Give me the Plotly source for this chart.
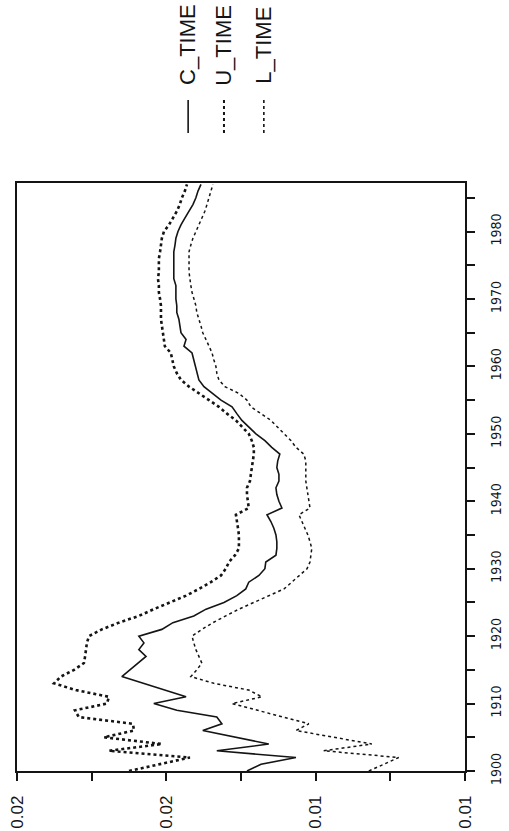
import plotly.graph_objects as go

years = list(range(1900, 1988))

c_time = [0.01730, 0.01683, 0.01566, 0.01831, 0.01657, 0.01770, 0.01878, 0.01814, 0.01831, 0.01965,
          0.02042, 0.01934, 0.02005, 0.02075, 0.02149, 0.02122, 0.02095, 0.02068, 0.02092, 0.02075,
          0.02092, 0.02015, 0.01978, 0.01908, 0.01867, 0.01807, 0.01764, 0.01734, 0.01724, 0.01690,
          0.01670, 0.01667, 0.01633, 0.01630, 0.01630, 0.01633, 0.01640, 0.01650, 0.01663, 0.01613,
          0.01623, 0.01630, 0.01633, 0.01623, 0.01623, 0.01630, 0.01627, 0.01620, 0.01647, 0.01670,
          0.01700, 0.01724, 0.01747, 0.01764, 0.01780, 0.01817, 0.01847, 0.01874, 0.01891, 0.01897,
          0.01901, 0.01908, 0.01914, 0.01941, 0.01934, 0.01951, 0.01955, 0.01958, 0.01965, 0.01965,
          0.01968, 0.01968, 0.01968, 0.01975, 0.01975, 0.01975, 0.01975, 0.01975, 0.01971, 0.01968,
          0.01961, 0.01951, 0.01938, 0.01924, 0.01911, 0.01901, 0.01894, 0.01884]

u_time = [0.02125, 0.02025, 0.01921, 0.02192, 0.02015, 0.02209, 0.02108, 0.02112, 0.02293, 0.02306,
          0.02199, 0.02192, 0.02303, 0.02376, 0.02353, 0.02309, 0.02276, 0.02272, 0.02269, 0.02266,
          0.02259, 0.02216, 0.02159, 0.02092, 0.02042, 0.01991, 0.01934, 0.01891, 0.01851, 0.01817,
          0.01801, 0.01790, 0.01770, 0.01757, 0.01757, 0.01757, 0.01760, 0.01764, 0.01767, 0.01724,
          0.01727, 0.01730, 0.01730, 0.01720, 0.01717, 0.01714, 0.01710, 0.01707, 0.01707, 0.01714,
          0.01724, 0.01747, 0.01767, 0.01797, 0.01824, 0.01857, 0.01891, 0.01924, 0.01951, 0.01965,
          0.01975, 0.01981, 0.01985, 0.02005, 0.02008, 0.02011, 0.02015, 0.02018, 0.02018, 0.02018,
          0.02021, 0.02025, 0.02025, 0.02028, 0.02025, 0.02025, 0.02025, 0.02021, 0.02018, 0.02015,
          0.02008, 0.01991, 0.01978, 0.01965, 0.01955, 0.01948, 0.01938, 0.01931]

l_time = [0.01322, 0.01272, 0.01222, 0.01473, 0.01312, 0.01439, 0.01566, 0.01523, 0.01606, 0.01697,
          0.01780, 0.01680, 0.01724, 0.01841, 0.01918, 0.01898, 0.01881, 0.01891, 0.01901, 0.01908,
          0.01914, 0.01881, 0.01844, 0.01801, 0.01757, 0.01707, 0.01657, 0.01606, 0.01580, 0.01556,
          0.01529, 0.01519, 0.01516, 0.01513, 0.01519, 0.01526, 0.01536, 0.01546, 0.01556, 0.01519,
          0.01523, 0.01526, 0.01529, 0.01533, 0.01533, 0.01533, 0.01533, 0.01540, 0.01566, 0.01583,
          0.01606, 0.01630, 0.01650, 0.01683, 0.01717, 0.01730, 0.01757, 0.01804, 0.01824, 0.01831,
          0.01834, 0.01841, 0.01847, 0.01857, 0.01867, 0.01878, 0.01884, 0.01891, 0.01898, 0.01901,
          0.01908, 0.01914, 0.01918, 0.01921, 0.01924, 0.01924, 0.01924, 0.01924, 0.01918, 0.01911,
          0.01901, 0.01891, 0.01881, 0.01871, 0.01864, 0.01857, 0.01851, 0.01844]

value_ticks = [0.025, 0.0225, 0.020, 0.0175, 0.015, 0.0125, 0.010]
value_labels = ["0.02", "", "0.02", "", "0.01", "", "0.01"]
year_ticks = list(range(1900, 1986, 5))
year_labels = [str(y) if y % 10 == 0 else "" for y in year_ticks]
legend_names = ["C_TIME", "U_TIME", "L_TIME"]

INK = "#141414"
FONT = "Liberation Sans, Arial, sans-serif"
NARROW = "Liberation Sans Narrow, Arial Narrow, DejaVu Sans Condensed, sans-serif"

fig = go.Figure()
fig.add_trace(go.Scatter(x=c_time, y=years, mode="lines", name=legend_names[0],
                         line=dict(color=INK, width=1.6)))
fig.add_trace(go.Scatter(x=u_time, y=years, mode="lines", name=legend_names[1],
                         line=dict(color=INK, width=2.6, dash="dot")))
fig.add_trace(go.Scatter(x=l_time, y=years, mode="lines", name=legend_names[2],
                         line=dict(color=INK, width=1.5, dash="dot")))

# rotated legend (text + line samples)
leg_x = [0.382, 0.462, 0.551]
leg_dash = ["solid", "dot", "dot"]
leg_w = [1.6, 2.0, 1.6]
for name, xp, dsh, w in zip(legend_names, leg_x, leg_dash, leg_w):
    fig.add_annotation(text=name, x=xp, y=1.235, xref="paper", yref="paper",
                       xanchor="center", yanchor="middle",
                       textangle=-90, showarrow=False,
                       font=dict(family=FONT, size=22, color=INK))
    fig.add_shape(type="line", xref="paper", yref="paper",
                  x0=xp, x1=xp, y0=1.085, y1=1.141,
                  line=dict(color=INK, width=w, dash=dsh))

fig.update_layout(
    width=509, height=831,
    margin=dict(l=17, r=44, t=183, b=60),
    paper_bgcolor="white", plot_bgcolor="white",
    showlegend=False,
    xaxis=dict(range=[0.025, 0.010], tickvals=value_ticks, ticktext=value_labels,
               tickangle=-90, ticks="outside", ticklen=8, tickwidth=1.5, tickcolor=INK,
               showline=True, linecolor=INK, linewidth=1.5, mirror=True,
               showgrid=False, zeroline=False, automargin=False,
               tickfont=dict(family=FONT, size=17, color=INK), ticklabelstandoff=8),
    yaxis=dict(range=[1900, 1987.2], side="right", tickvals=year_ticks, ticktext=year_labels,
               tickangle=-90, ticks="outside", ticklen=8, tickwidth=1.5, tickcolor=INK,
               showline=True, linecolor=INK, linewidth=1.5, mirror=True,
               showgrid=False, zeroline=False, automargin=False,
               tickfont=dict(family=NARROW, size=14, color=INK), ticklabelstandoff=9),
)

fig.write_html("out.html",
               config={"displayModeBar": False},
               post_script="document.body.style.margin='0';document.body.style.overflow='hidden';")
